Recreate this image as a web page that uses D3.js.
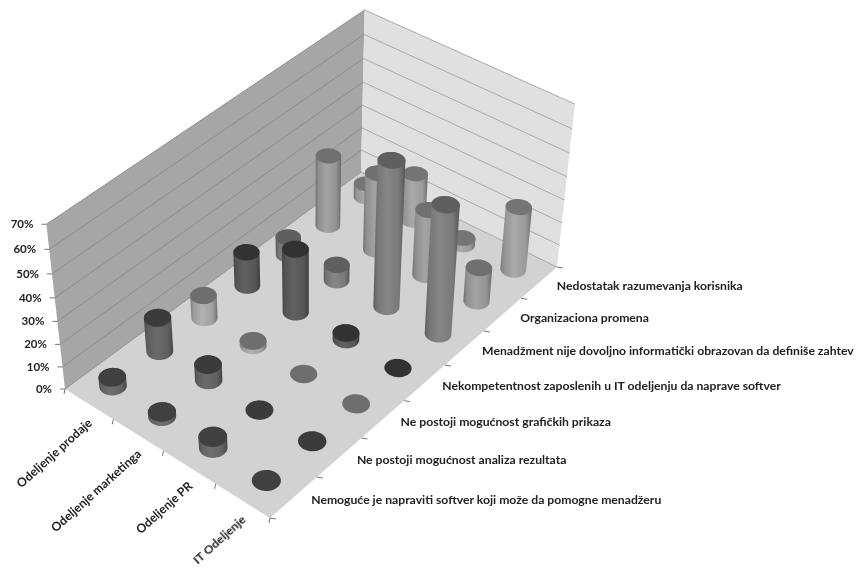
<!DOCTYPE html>
<html><head><meta charset="utf-8">
<script src="https://cdn.jsdelivr.net/npm/d3@7/dist/d3.min.js"></script>
<style>
html,body{margin:0;padding:0;background:#fff}
text{font-family:Lato,"Open Sans",sans-serif;fill:#222;font-weight:700}
</style></head><body>
<svg id="c" width="857" height="570"></svg>
<script>
const columns = ["Odeljenje prodaje","Odeljenje marketinga","Odeljenje PR","IT Odeljenje"];
const rows = ["Nemoguće je napraviti softver koji može da pomogne menadžeru",
  "Ne postoji mogućnost analiza rezultata",
  "Ne postoji mogućnost grafičkih prikaza",
  "Nekompetentnost zaposlenih u IT odeljenju da naprave softver",
  "Menadžment nije dovoljno informatički obrazovan da definiše zahtev",
  "Organizaciona promena",
  "Nedostatak razumevanja korisnika"];
const nemoguce = [4,2,5,0];
const analiza = [15,7,0,0];
const graficki = [10,2,0,0];
const nekompetentnost = [15,28,3,0];
const menadzment = [8,7,63,56];
const organizaciona = [31,34,29,15];
const nedostatak = [6,21,3,28];
const seriesValues = [nemoguce,analiza,graficki,nekompetentnost,menadzment,organizaciona,nedostatak];
const valueTicks = [0,10,20,30,40,50,60,70];
const topColors  = ["#3f3f3f","#3a3a3a","#6e6e6e","#333333","#5e5e5e","#707070","#747474"];
const bodyColors = ["#6a6a6a","#666666","#aaaaaa","#5c5c5c","#808080","#9c9c9c","#a2a2a2"];

// floor corners in screen space and the vertical vanishing point
const P00=[65,389],P10=[270,518],P11=[557,267],P01=[361,172],VP=[308,2540];
function unitSquareHomography(){
  const [x0,y0]=P00,[x1,y1]=P10,[x2,y2]=P11,[x3,y3]=P01;
  const dx1=x1-x2,dx2=x3-x2,dy1=y1-y2,dy2=y3-y2,sx=x0-x1+x2-x3,sy=y0-y1+y2-y3;
  const det=dx1*dy2-dx2*dy1;
  const g=(sx*dy2-dx2*sy)/det,h=(dx1*sy-sx*dy1)/det;
  return [[x1-x0+g*x1,x3-x0+h*x3,x0],[y1-y0+g*y1,y3-y0+h*y3,y0],[g,h,1]];
}
const H=unitSquareHomography();
const base=(u,v)=>H.map(r=>r[0]*u+r[1]*v+r[2]);
const backBase=base(0,1),backTopY=10;
const lambda=(backTopY-P01[1])*backBase[2]/(VP[1]-backTopY);
function project(u,v,z){
  const b=base(u,v),k=z*lambda*(1-0.04*(1-v)-0.024*u);
  const w=b[2]+k;
  return [(b[0]+k*VP[0])/w,(b[1]+k*VP[1])/w];
}
const zScale=d3.scaleLinear().domain([0,70]).range([0,1]);
const uBand=d3.scaleBand().domain(columns).range([0,1]);
const vBand=d3.scaleBand().domain(rows).range([0,1]);
const uC=c=>uBand(c)+uBand.bandwidth()/2, vC=r=>vBand(r)+vBand.bandwidth()/2;

const svg=d3.select("#c");
const defs=svg.append("defs");
const blur=defs.append("filter").attr("id","soft").attr("x","-5%").attr("y","-5%").attr("width","110%").attr("height","110%");
blur.append("feGaussianBlur").attr("stdDeviation",0.55);

rows.forEach((r,i)=>{
  const g=defs.append("linearGradient").attr("id","cyl"+i).attr("x1",0).attr("x2",1).attr("y1",0).attr("y2",0);
  const c=d3.color(bodyColors[i]);
  [[0,c.darker(0.9)],[0.12,c.darker(0.25)],[0.42,c.brighter(0.12)],[0.8,c.darker(0.15)],[1,c.darker(1.1)]]
    .forEach(([o,col])=>g.append("stop").attr("offset",o).attr("stop-color",col));
});

const root=svg.append("g").attr("filter","url(#soft)");
const line=d3.line();
const closed=d3.line().curve(d3.curveLinearClosed);

// walls and floor
root.append("path").attr("d",closed([project(0,0,0),project(0,1,0),project(0,1,1),project(0,0,1)])).attr("fill","#a6a6a6");
root.append("path").attr("d",closed([project(0,1,0),project(1,1,0),project(1,1,1),project(0,1,1)])).attr("fill","#e0e0e0");
root.append("path").attr("d",closed([P00,P10,P11,P01])).attr("fill","#d2d2d2");

// gridlines
valueTicks.forEach(t=>{
  const z=zScale(t);
  root.append("path").attr("d",line([project(0,0,z),project(0,1,z)])).attr("stroke","#8d8d8d").attr("fill","none").attr("stroke-width",1);
  root.append("path").attr("d",line([project(0,1,z),project(1,1,z)])).attr("stroke","#a9a9a9").attr("fill","none").attr("stroke-width",1);
  const p=project(0,0,z);
  root.append("path").attr("d",line([[p[0]-5,p[1]],p])).attr("stroke","#777").attr("fill","none");
  root.append("text").attr("x",p[0]-13).attr("y",p[1]+1).attr("text-anchor","end").attr("dominant-baseline","middle")
    .attr("font-size",11.5).text(t+"%");
});

// floor edge ticks
d3.range(columns.length+1).forEach(i=>{
  const p=project(i/columns.length,0,0);
  root.append("path").attr("d",line([p,[p[0]-1,p[1]+5]])).attr("stroke","#777").attr("fill","none");
});
d3.range(rows.length+1).forEach(i=>{
  const p=project(1,i/rows.length,0);
  root.append("path").attr("d",line([p,[p[0]+6,p[1]+1]])).attr("stroke","#777").attr("fill","none");
});

// cylinders
const marks=[];
rows.forEach((r,ri)=>columns.forEach((c,ci)=>marks.push({r,ri,c,ci,value:seriesValues[ri][ci]})));
marks.forEach(m=>{m.depth=project(uC(m.c),vC(m.r),0)[1]});
marks.sort((a,b)=>a.depth-b.depth);
const angles=d3.range(0,2*Math.PI,Math.PI/30);
const ru=0.205*uBand.bandwidth(), rv=0.2*vBand.bandwidth();
const ring=(m,z)=>angles.map(a=>project(uC(m.c)+ru*Math.cos(a),vC(m.r)+rv*Math.sin(a),z));
const cyl=root.selectAll("g.cyl").data(marks).join("g").attr("class","cyl");
cyl.filter(m=>m.value>0).append("path")
  .attr("d",m=>closed(d3.polygonHull(ring(m,0).concat(ring(m,zScale(m.value))))))
  .attr("fill",m=>`url(#cyl${m.ri})`);
cyl.append("path").attr("d",m=>closed(ring(m,zScale(m.value)))).attr("fill",m=>topColors[m.ri]);

// category labels
root.selectAll("text.row").data(rows).join("text").attr("class","row")
  .attr("x",r=>project(1,vC(r),0)[0]+17.5)
  .attr("y",r=>project(1,vC(r),0)[1]+4)
  .attr("dominant-baseline","middle").attr("font-size",12.2).text(r=>r);
root.selectAll("text.col").data(columns).join("text").attr("class","col")
  .attr("text-anchor","end").attr("font-size",12.2)
  .attr("transform",c=>{const p=project(uC(c),0,0);return `translate(${p[0]+4},${p[1]+20}) rotate(-42)`})
  .text(c=>c);
</script></body></html>
